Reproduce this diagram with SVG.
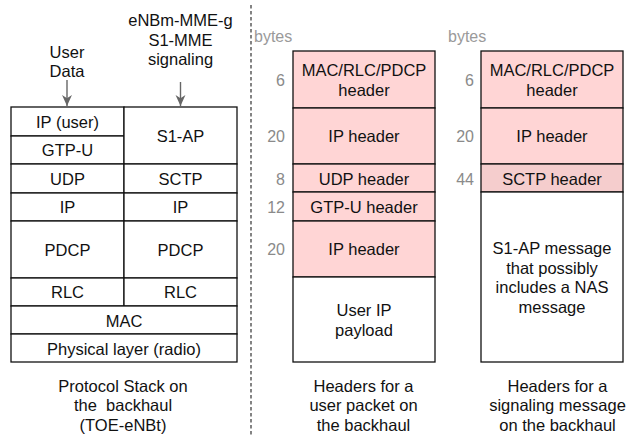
<svg xmlns="http://www.w3.org/2000/svg" width="629" height="437" viewBox="0 0 629 437">
<style>
text{font-family:"Liberation Sans",Arial,Helvetica,sans-serif;font-size:16.5px;fill:#111;text-anchor:middle}
.box{fill:#fff;stroke:#111;stroke-width:1.3}
.pink{fill:#ffd5d5;stroke:#111;stroke-width:1.3}
.pink2{fill:#f5cdcd;stroke:#111;stroke-width:1.3}
.num{fill:#8a8a8a;text-anchor:end;font-size:16px}
.bytes{fill:#9a9a9a;text-anchor:start;font-size:16px}
.arrow{stroke:#666;stroke-width:1.4;fill:none}
</style>
<defs>
<marker id="ah" viewBox="0 0 10 10" refX="10" refY="5" markerWidth="11" markerHeight="11" markerUnits="userSpaceOnUse" orient="auto">
<path d="M0,0.5 L10,5 L0,9.5 L3,5 Z" fill="#666"/>
</marker>
</defs>
<rect width="629" height="437" fill="#fff"/>

<!-- divider -->
<line x1="251" y1="5" x2="251" y2="437" stroke="#333" stroke-width="1.2" stroke-dasharray="3.5,2.5"/>

<!-- top labels -->
<g id="label-user-data">
<text x="67" y="57.5">User</text>
<text x="67" y="76.5">Data</text>
</g>
<g id="label-signaling">
<text x="180.5" y="26">eNBm-MME-g</text>
<text x="180.5" y="45.5">S1-MME</text>
<text x="180.5" y="65">signaling</text>
</g>

<!-- left protocol stack -->
<g id="ip-user"><rect class="box" x="11" y="107" width="113" height="29"/><text x="67.5" y="127.5">IP (user)</text></g>
<g id="gtp-u"><rect class="box" x="11" y="136" width="113" height="28"/><text x="67.5" y="156">GTP-U</text></g>
<g id="s1-ap"><rect class="box" x="124" y="107" width="113" height="57"/><text x="180.5" y="141.5">S1-AP</text></g>
<g id="udp"><rect class="box" x="11" y="164" width="113" height="29"/><text x="67.5" y="184.5">UDP</text></g>
<g id="sctp"><rect class="box" x="124" y="164" width="113" height="29"/><text x="180.5" y="184.5">SCTP</text></g>
<g id="ip-left"><rect class="box" x="11" y="193" width="113" height="28"/><text x="67.5" y="213">IP</text></g>
<g id="ip-right"><rect class="box" x="124" y="193" width="113" height="28"/><text x="180.5" y="213">IP</text></g>
<g id="pdcp-left"><rect class="box" x="11" y="221" width="113" height="57"/><text x="67.5" y="255.5">PDCP</text></g>
<g id="pdcp-right"><rect class="box" x="124" y="221" width="113" height="57"/><text x="180.5" y="255.5">PDCP</text></g>
<g id="rlc-left"><rect class="box" x="11" y="278" width="113" height="28"/><text x="67.5" y="298">RLC</text></g>
<g id="rlc-right"><rect class="box" x="124" y="278" width="113" height="28"/><text x="180.5" y="298">RLC</text></g>
<g id="mac"><rect class="box" x="11" y="306" width="226" height="28"/><text x="124" y="326.5">MAC</text></g>
<g id="phy"><rect class="box" x="11" y="334" width="226" height="28"/><text x="124" y="354.5">Physical layer (radio)</text></g>
<g id="label-stack">
<text x="123" y="391.5">Protocol Stack on</text>
<text x="123" y="411" xml:space="preserve">the  backhaul</text>
<text x="123" y="430.5">(TOE-eNBt)</text>
</g>

<!-- middle: user packet -->
<g id="user-bytes-label"><text class="bytes" x="254" y="42">bytes</text></g>
<g id="u-mac"><rect class="pink" x="293" y="51" width="142" height="57"/><text x="364" y="76">MAC/RLC/PDCP</text><text x="364" y="95.5">header</text><text class="num" x="285" y="85.5">6</text></g>
<g id="u-ip"><rect class="pink" x="293" y="108" width="142" height="56"/><text x="364" y="142">IP header</text><text class="num" x="285" y="142">20</text></g>
<g id="u-udp"><rect class="pink" x="293" y="164" width="142" height="28"/><text x="364" y="184.5">UDP header</text><text class="num" x="285" y="184.5">8</text></g>
<g id="u-gtp"><rect class="pink" x="293" y="192" width="142" height="29"/><text x="364" y="212.5">GTP-U header</text><text class="num" x="285" y="212.5">12</text></g>
<g id="u-ip2"><rect class="pink" x="293" y="221" width="142" height="56"/><text x="364" y="255">IP header</text><text class="num" x="285" y="255">20</text></g>
<g id="u-payload"><rect class="box" x="293" y="277" width="142" height="85"/><text x="364" y="316">User IP</text><text x="364" y="335.5">payload</text></g>
<g id="label-user-packet">
<text x="363.5" y="391.5">Headers for a</text>
<text x="363.5" y="411">user packet on</text>
<text x="363.5" y="430.5">the backhaul</text>
</g>

<!-- right: signaling message -->
<g id="sig-bytes-label"><text class="bytes" x="448" y="42">bytes</text></g>
<g id="s-mac"><rect class="pink" x="481" y="51" width="142" height="57"/><text x="552" y="76">MAC/RLC/PDCP</text><text x="552" y="95.5">header</text><text class="num" x="474" y="85.5">6</text></g>
<g id="s-ip"><rect class="pink" x="481" y="108" width="142" height="56"/><text x="552" y="142">IP header</text><text class="num" x="474" y="142">20</text></g>
<g id="s-sctp"><rect class="pink2" x="481" y="164" width="142" height="28"/><text x="552" y="184.5">SCTP header</text><text class="num" x="474" y="184.5">44</text></g>
<g id="s-msg"><rect class="box" x="481" y="192" width="142" height="170"/><text x="552" y="254">S1-AP message</text><text x="552" y="273.5">that possibly</text><text x="552" y="293">includes a NAS</text><text x="552" y="312.5">message</text></g>
<g id="label-signaling-msg">
<text x="557.5" y="391.5">Headers for a</text>
<text x="557.5" y="411">signaling message</text>
<text x="557.5" y="430.5">on the backhaul</text>
</g>

<!-- connectors -->
<g id="connectors">
<line class="arrow" x1="67" y1="80" x2="67" y2="106" marker-end="url(#ah)"/>
<line class="arrow" x1="180.5" y1="82" x2="180.5" y2="106" marker-end="url(#ah)"/>
</g>
</svg>
